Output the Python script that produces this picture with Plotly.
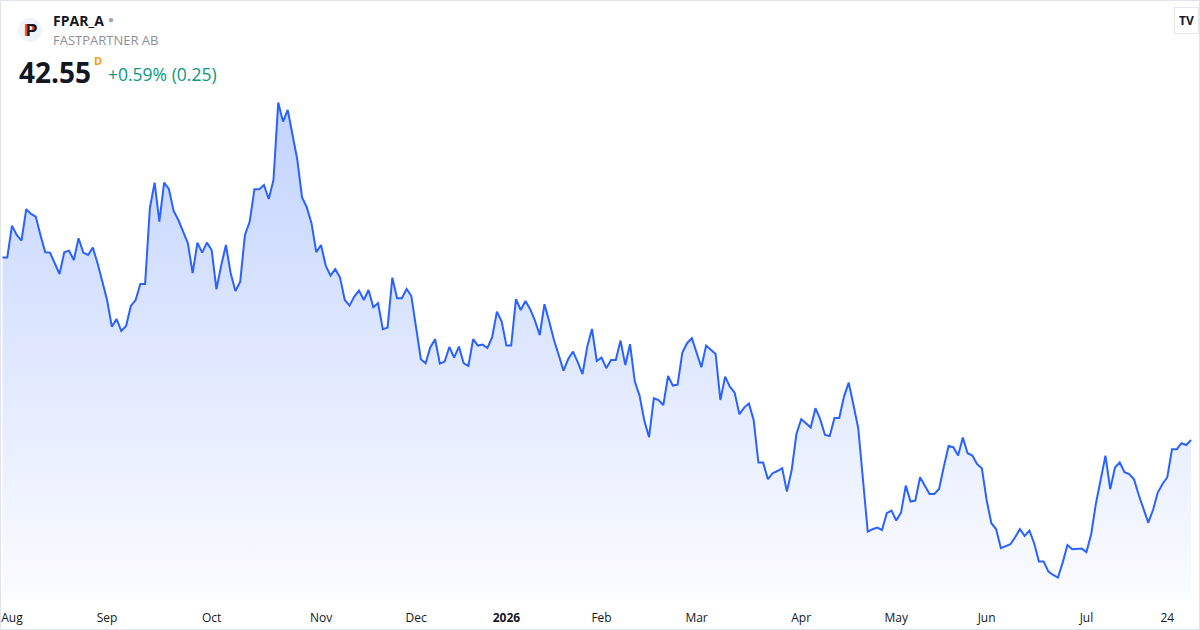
import pandas as pd
import plotly.graph_objects as go

# FPAR_A daily closes (SEK), one per trading day, 2025-07-31 .. 2026-07-31
close = [
    51.67, 51.67, 53.27, 52.80, 52.52, 54.09, 53.85, 53.72, 52.79, 51.94,
    51.92, 51.39, 50.85, 51.94, 52.02, 51.55, 52.64, 51.92, 51.80, 52.17,
    51.39, 50.47, 49.55, 48.22, 48.60, 48.00, 48.25, 49.25, 49.55, 50.35,
    50.35, 54.14, 55.42, 53.47, 55.42, 55.10, 54.00, 53.55, 52.97, 52.39,
    50.89, 52.42, 51.92, 52.42, 52.05, 50.09, 51.27, 52.30, 50.89, 50.00,
    50.47, 52.80, 53.47, 55.09, 55.09, 55.30, 54.60, 55.55, 59.42, 58.47,
    59.05, 57.84, 56.59, 54.69, 54.19, 53.39, 51.94, 52.30, 51.27, 50.77,
    51.09, 50.67, 49.55, 49.27, 49.72, 50.02, 49.55, 50.05, 49.19, 49.39,
    48.09, 48.17, 50.67, 49.64, 49.64, 50.10, 49.75, 48.17, 46.59, 46.39,
    47.19, 47.59, 46.37, 46.47, 47.20, 46.67, 47.22, 46.39, 46.25, 47.59,
    47.27, 47.32, 47.15, 47.69, 48.97, 48.47, 47.27, 47.27, 49.59, 49.05,
    49.50, 49.09, 48.52, 47.80, 49.34, 48.47, 47.55, 46.80, 46.02, 46.60,
    46.97, 46.44, 45.84, 47.22, 48.10, 46.50, 46.67, 46.14, 46.55, 46.55,
    47.52, 46.30, 47.34, 45.47, 44.77, 43.52, 42.69, 44.64, 44.55, 44.30,
    45.75, 45.27, 45.32, 46.92, 47.39, 47.64, 46.89, 46.19, 47.27, 47.05,
    46.85, 44.55, 45.72, 45.22, 44.92, 43.84, 44.17, 44.37, 43.55, 41.42,
    41.42, 40.59, 40.89, 41.00, 41.14, 39.97, 41.05, 42.85, 43.59, 43.39,
    43.17, 44.14, 43.59, 42.80, 42.75, 43.65, 43.65, 44.72, 45.42, 44.30,
    43.14, 40.55, 37.97, 38.09, 38.17, 38.05, 38.89, 39.02, 38.52, 38.92,
    40.27, 39.47, 39.52, 40.69, 40.25, 39.85, 39.85, 40.10, 41.22, 42.25,
    42.19, 41.77, 42.67, 41.89, 41.77, 41.34, 41.14, 39.55, 38.39, 38.10,
    37.14, 37.25, 37.34, 37.69, 38.09, 37.75, 38.02, 37.39, 36.47, 36.47,
    35.97, 35.80, 35.67, 36.42, 37.30, 37.09, 37.12, 37.12, 36.95, 37.85,
    39.39, 40.64, 41.77, 40.09, 41.17, 41.42, 40.94, 40.85, 40.59, 39.80,
    39.05, 38.42, 39.05, 39.92, 40.35, 40.69, 42.09, 42.09, 42.39, 42.30,
    42.55,
]

# Stockholm exchange holidays in the period (weekdays with no trading)
holidays = ["2025-12-24", "2025-12-25", "2025-12-26", "2025-12-31",
            "2026-01-01", "2026-01-06", "2026-04-03", "2026-04-06",
            "2026-05-01", "2026-05-14", "2026-06-19"]

days = pd.bdate_range("2025-07-31", "2026-07-31")
days = [d.strftime("%Y-%m-%d") for d in days if d.strftime("%Y-%m-%d") not in holidays]

# time-scale labels (Aug is nudged one bar in, like the widget does at the edge)
tick_days = ["2025-08-04", "2025-09-01", "2025-10-01", "2025-11-03", "2025-12-01",
             "2026-01-02", "2026-02-02", "2026-03-02", "2026-04-01", "2026-05-04",
             "2026-06-01", "2026-07-01", "2026-07-24"]
tick_text = ["Aug", "Sep", "Oct", "Nov", "Dec", "<b>2026</b>", "Feb", "Mar",
             "Apr", "May", "Jun", "Jul", "24"]

last = close[-1]
prev = close[-2]
chg = last - prev
pct = chg / prev * 100

W, H = 1200, 630
y_lo, y_hi = 34.55, 64.55
FONT = "Open Sans"

fig = go.Figure()
fig.add_trace(go.Scatter(
    x=days, y=close, mode="lines",
    line=dict(color="#2962ff", width=2),
    fill="tozeroy",
    fillgradient=dict(type="vertical", start=y_lo, stop=max(close),
                      colorscale=[[0, "rgba(41,98,255,0.02)"], [1, "rgba(41,98,255,0.28)"]]),
    hoverinfo="skip",
))


def px(x):
    return x / W


def py(y):
    return 1 - y / H


annos = [
    dict(x=px(29), y=py(30), text="<b>P</b>", font=dict(size=17, color="#ff3d1f", family="Arial")),
    dict(x=px(31), y=py(30), text="<b>P</b>", font=dict(size=17, color="#131722", family="Arial")),
    dict(x=px(51), y=py(20), text="<b>FPAR_A</b>", xanchor="left",
         font=dict(size=14, color="#131722")),
    dict(x=px(106), y=py(19), text="●", xanchor="left", font=dict(size=10, color="#a3a6af")),
    dict(x=px(51), y=py(40), text="FASTPARTNER AB", xanchor="left",
         font=dict(size=13, color="#8c8f99")),
    dict(x=px(17), y=py(72), text="<b>%.2f</b>" % last, xanchor="left",
         font=dict(size=28, color="#131722")),
    dict(x=px(92), y=py(61), text="<b>D</b>", xanchor="left",
         font=dict(size=11, color="#ff9800")),
    dict(x=px(106), y=py(74), text="+%.2f%% (%.2f)" % (pct, chg), xanchor="left",
         font=dict(size=17.5, color="#089981")),
    dict(x=px(1186), y=py(20), text="<b>TV</b>", font=dict(size=12, color="#131722"),
         bgcolor="white", bordercolor="#e6e8ee", borderwidth=1, borderpad=4),
]
for a in annos:
    a.setdefault("xanchor", "center")
    a.update(xref="paper", yref="paper", yanchor="middle", showarrow=False)
    a["font"].setdefault("family", FONT)

shapes = [
    dict(type="circle", xref="paper", yref="paper", x0=px(18), x1=px(42), y0=py(42), y1=py(18),
         fillcolor="#f0f3fa", line=dict(width=0), layer="below"),
    dict(type="rect", xref="paper", yref="paper", x0=px(0.5), x1=px(1199.5), y0=py(629.5), y1=py(0.5),
         line=dict(color="#e0e3eb", width=1)),
]

fig.update_layout(
    width=W, height=H,
    margin=dict(l=0, r=0, t=0, b=0),
    paper_bgcolor="white", plot_bgcolor="white",
    showlegend=False,
    font=dict(family=FONT, color="#131722"),
    annotations=annos,
    shapes=shapes,
    xaxis=dict(type="category", domain=[px(2), px(1192)], range=[-0.1, 250.2],
               tickvals=tick_days, ticktext=tick_text, tickfont=dict(size=12, color="#131722"),
               showgrid=False, zeroline=False, showline=False, ticks="",
               ticklabelstandoff=9, automargin=False, fixedrange=True),
    yaxis=dict(domain=[py(600), 1], range=[y_lo, y_hi], visible=False,
               automargin=False, fixedrange=True),
)

# page body has a default 8px margin; drop it so the figure sits at the window corner
fig.write_html("out.html", config={"displayModeBar": False},
               post_script="document.body.style.margin='0px';")
